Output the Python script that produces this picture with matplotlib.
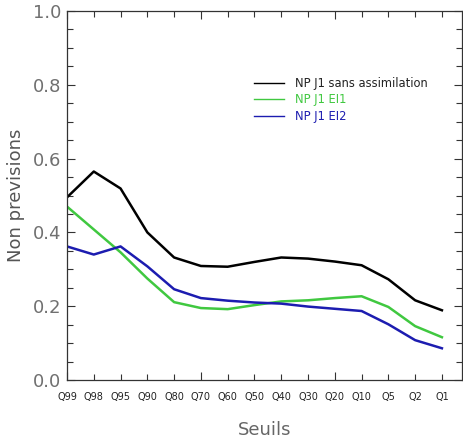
import matplotlib.pyplot as plt
from matplotlib.lines import Line2D
from matplotlib.ticker import MultipleLocator

# Seuils (axe x)
seuils = ["Q99", "Q98", "Q95", "Q90", "Q80", "Q70", "Q60", "Q50",
          "Q40", "Q30", "Q20", "Q10", "Q5", "Q2", "Q1"]

# Non previsions
np_sans_assim = [0.495, 0.565, 0.519, 0.400, 0.332, 0.309, 0.307, 0.320,
                 0.332, 0.329, 0.321, 0.311, 0.273, 0.216, 0.189]
np_ei1 = [0.470, 0.408, 0.346, 0.275, 0.211, 0.195, 0.192, 0.203,
          0.213, 0.216, 0.222, 0.227, 0.198, 0.146, 0.116]
np_ei2 = [0.362, 0.340, 0.362, 0.308, 0.246, 0.222, 0.215, 0.210,
          0.207, 0.199, 0.193, 0.187, 0.151, 0.108, 0.086]

noms = ["NP J1 sans assimilation", "NP J1 EI1", "NP J1 EI2"]
couleurs = ["black", "#40c840", "#1c1cb0"]

fig = plt.figure(figsize=(4.64, 4.38), dpi=100)
ax = fig.add_axes([0.1444, 0.1324, 0.8513, 0.8425])

x = list(range(len(seuils)))
for serie, c in zip([np_sans_assim, np_ei1, np_ei2], couleurs):
    ax.plot(x, serie, color=c, lw=1.8)

ax.set_xlim(0, 14.75)
ax.set_ylim(0, 1.0)

# ticks x : majeurs tous les 5, mineurs tous les 1, etiquettes a la main
ax.xaxis.set_major_locator(MultipleLocator(5))
ax.xaxis.set_minor_locator(MultipleLocator(1))
ax.set_xticklabels([])
for i, s in enumerate(seuils):
    ax.text(i, -0.045, s, ha="center", va="center", fontsize=7,
            color="#222222", clip_on=False)

ax.yaxis.set_major_locator(MultipleLocator(0.2))
ax.yaxis.set_minor_locator(MultipleLocator(0.05))
ax.set_yticks([0.0, 0.2, 0.4, 0.6, 0.8, 1.0])
ax.set_yticklabels(["0.0", "0.2", "0.4", "0.6", "0.8", "1.0"],
                   fontsize=13, color="#707070")

ax.tick_params(which="both", direction="in", top=True, right=True,
               width=0.8, color="#333333")
ax.tick_params(which="major", length=6)
ax.tick_params(axis="y", which="major", pad=4)
ax.tick_params(which="minor", length=4)
ax.tick_params(axis="x", which="major", labelbottom=False)

for sp in ax.spines.values():
    sp.set_color("#333333")
    sp.set_linewidth(0.9)

ax.set_ylabel("Non previsions", fontsize=13, color="#555555", labelpad=6)
ax.set_xlabel("Seuils", fontsize=13, color="#666666", labelpad=26)

# legende
poignees = [Line2D([0], [0], color=c, lw=1) for c in couleurs]
leg = ax.legend(poignees, noms, loc="upper left", bbox_to_anchor=(0.473, 0.822),
                frameon=False, fontsize=8.3, handlelength=2.6,
                handletextpad=1.0, labelspacing=0.3, borderpad=0,
                borderaxespad=0)
for t, c in zip(leg.get_texts(), couleurs):
    t.set_color("#222222" if c == "black" else c)

fig.savefig("out.png", dpi=100)
